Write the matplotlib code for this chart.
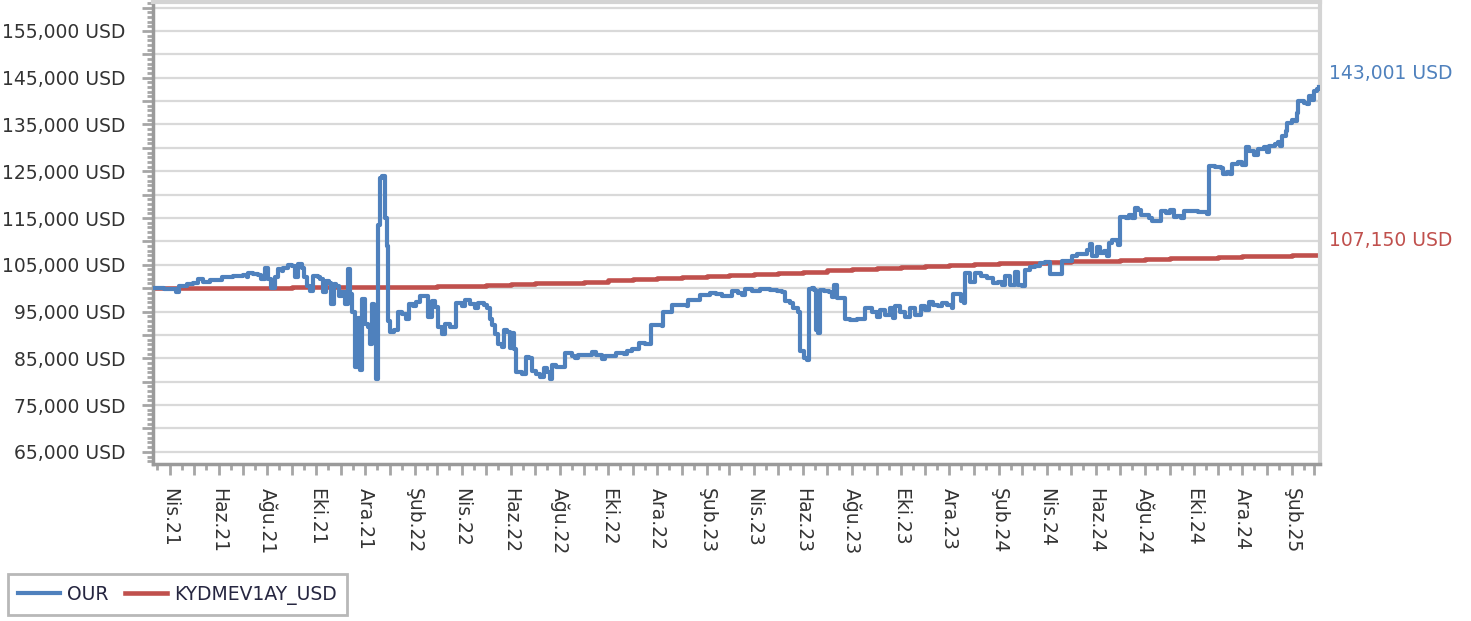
import pandas as pd
import matplotlib
matplotlib.use('Agg')
import matplotlib.pyplot as plt
import matplotlib.dates as mdates
from matplotlib.ticker import MultipleLocator, FuncFormatter

# OUR fon degeri (USD)
our_dates = [
    '2021-03-11', '2021-03-25', '2021-04-09', '2021-04-13', '2021-04-22', '2021-04-30',
    '2021-05-06', '2021-05-13', '2021-05-21', '2021-06-05', '2021-06-19', '2021-07-02',
    '2021-07-06', '2021-07-08', '2021-07-14', '2021-07-20', '2021-07-24', '2021-07-29',
    '2021-08-02', '2021-08-06', '2021-08-10', '2021-08-14', '2021-08-19', '2021-08-21',
    '2021-08-27', '2021-09-01', '2021-09-04', '2021-09-08', '2021-09-13', '2021-09-16',
    '2021-09-19', '2021-09-23', '2021-09-27', '2021-10-03', '2021-10-06', '2021-10-10',
    '2021-10-13', '2021-10-17', '2021-10-20', '2021-10-23', '2021-10-26', '2021-10-29',
    '2021-11-02', '2021-11-06', '2021-11-10', '2021-11-12', '2021-11-15', '2021-11-18',
    '2021-11-22', '2021-11-24', '2021-11-27', '2021-12-01', '2021-12-05', '2021-12-07',
    '2021-12-09', '2021-12-12', '2021-12-15', '2021-12-17', '2021-12-19', '2021-12-22',
    '2021-12-26', '2021-12-28', '2021-12-29', '2022-01-01', '2022-01-06', '2022-01-11',
    '2022-01-16', '2022-01-21', '2022-01-25', '2022-01-30', '2022-02-03', '2022-02-08',
    '2022-02-18', '2022-02-22', '2022-02-26', '2022-03-02', '2022-03-07', '2022-03-11',
    '2022-03-17', '2022-03-25', '2022-04-01', '2022-04-05', '2022-04-11', '2022-04-17',
    '2022-04-21', '2022-04-28', '2022-05-02', '2022-05-06', '2022-05-09', '2022-05-12',
    '2022-05-16', '2022-05-21', '2022-05-23', '2022-05-27', '2022-05-31', '2022-06-02',
    '2022-06-05', '2022-06-07', '2022-06-15', '2022-06-20', '2022-06-24', '2022-06-27',
    '2022-07-03', '2022-07-07', '2022-07-12', '2022-07-16', '2022-07-20', '2022-07-22',
    '2022-07-28', '2022-08-08', '2022-08-16', '2022-08-20', '2022-08-24', '2022-09-04',
    '2022-09-10', '2022-09-16', '2022-09-23', '2022-09-27', '2022-10-07', '2022-10-11',
    '2022-10-20', '2022-10-24', '2022-10-30', '2022-11-08', '2022-11-16', '2022-11-23',
    '2022-11-30', '2022-12-07', '2022-12-08', '2022-12-15', '2022-12-20', '2023-01-07',
    '2023-01-09', '2023-01-23', '2023-02-05', '2023-02-13', '2023-02-20', '2023-02-26',
    '2023-03-04', '2023-03-12', '2023-03-17', '2023-03-21', '2023-03-29', '2023-04-08',
    '2023-04-21', '2023-04-29', '2023-05-06', '2023-05-10', '2023-05-16', '2023-05-20',
    '2023-05-26', '2023-05-28', '2023-06-02', '2023-06-06', '2023-06-08', '2023-06-12',
    '2023-06-15', '2023-06-17', '2023-06-20', '2023-06-22', '2023-06-27', '2023-07-03',
    '2023-07-07', '2023-07-10', '2023-07-13', '2023-07-20', '2023-07-24', '2023-07-30',
    '2023-08-07', '2023-08-16', '2023-08-18', '2023-08-26', '2023-09-01', '2023-09-05',
    '2023-09-12', '2023-09-18', '2023-09-22', '2023-09-24', '2023-09-30', '2023-10-07',
    '2023-10-13', '2023-10-19', '2023-10-26', '2023-11-01', '2023-11-05', '2023-11-11',
    '2023-11-17', '2023-11-22', '2023-11-28', '2023-12-04', '2023-12-06', '2023-12-15',
    '2023-12-19', '2023-12-20', '2023-12-27', '2024-01-02', '2024-01-09', '2024-01-17',
    '2024-01-25', '2024-01-31', '2024-02-05', '2024-02-09', '2024-02-15', '2024-02-21',
    '2024-02-25', '2024-03-01', '2024-03-05', '2024-03-11', '2024-03-17', '2024-03-23',
    '2024-03-30', '2024-04-05', '2024-04-20', '2024-04-28', '2024-05-02', '2024-05-08',
    '2024-05-17', '2024-05-21', '2024-05-25', '2024-05-27', '2024-06-02', '2024-06-06',
    '2024-06-11', '2024-06-15', '2024-06-17', '2024-06-21', '2024-06-27', '2024-06-29',
    '2024-07-01', '2024-07-08', '2024-07-12', '2024-07-16', '2024-07-20', '2024-07-24',
    '2024-07-27', '2024-08-06', '2024-08-10', '2024-08-16', '2024-08-21', '2024-08-27',
    '2024-09-02', '2024-09-06', '2024-09-10', '2024-09-15', '2024-09-19', '2024-09-27',
    '2024-10-01', '2024-10-07', '2024-10-18', '2024-10-20', '2024-10-28', '2024-11-04',
    '2024-11-07', '2024-11-12', '2024-11-16', '2024-11-18', '2024-11-26', '2024-12-01',
    '2024-12-05', '2024-12-09', '2024-12-15', '2024-12-21', '2024-12-28', '2025-01-01',
    '2025-01-03', '2025-01-11', '2025-01-15', '2025-01-17', '2025-01-20', '2025-01-24',
    '2025-01-26', '2025-02-01', '2025-02-05', '2025-02-07', '2025-02-09', '2025-02-16',
    '2025-02-20', '2025-02-22', '2025-02-26', '2025-02-28', '2025-03-04', '2025-03-07',
]
our_values = [
    100000, 99800, 99100, 100500, 100850, 101200,
    101900, 101400, 101700, 102400, 102500, 102800,
    102400, 103300, 103100, 102800, 101900, 104300,
    101900, 100000, 102300, 104000, 103600, 104400,
    104900, 104700, 102300, 105100, 104400, 102300,
    100500, 99400, 102600, 102300, 101900, 99100,
    101600, 101200, 96600, 100850, 100500, 98400,
    99100, 96600, 104000, 98800, 94800, 83100,
    93700, 82400, 97700, 92300, 91600, 88100,
    96600, 91000, 80600, 113600, 123500, 123900,
    115000, 109000, 93000, 90600, 91000, 94800,
    94400, 93500, 96600, 96200, 97000, 98400,
    93800, 97300, 95900, 91600, 90200, 92300,
    91600, 96800, 96100, 97400, 96700, 95800,
    96800, 96400, 95800, 93300, 92200, 90100,
    88000, 87500, 91100, 90700, 87300, 90400,
    86900, 82000, 81700, 85300, 85100, 82300,
    81600, 81100, 83000, 82000, 80500, 83500,
    83200, 86100, 85600, 85100, 85800, 85800,
    86300, 85800, 84900, 85500, 85500, 86200,
    86000, 86500, 86900, 88300, 88100, 92200,
    92200, 91900, 95000, 95000, 96500, 96200,
    97500, 98600, 98900, 98700, 98400, 98300,
    99400, 98900, 98600, 99800, 99500, 99800,
    99600, 99400, 99100, 97200, 96800, 95700,
    95000, 86500, 85100, 84600, 99800, 100000,
    99600, 91100, 90400, 99600, 99300, 99100,
    98200, 100700, 97900, 97900, 93300, 93100,
    93300, 93400, 95700, 95000, 93900, 95400,
    94300, 95700, 93600, 96100, 95000, 93900,
    95700, 94300, 96100, 95400, 97000, 96500,
    96100, 96800, 96500, 95700, 98800, 97200,
    96800, 103200, 101400, 103200, 102600, 102100,
    101100, 101400, 100700, 102500, 100700, 103500,
    100700, 100400, 103900, 104600, 104700, 105300,
    105700, 103000, 105800, 105900, 106900, 107400,
    107300, 108100, 109500, 106900, 108700, 107600,
    108000, 106900, 109700, 110400, 110100, 109300,
    115300, 115000, 115700, 115000, 117100, 116800,
    115700, 115000, 114300, 114400, 116400, 116100,
    116800, 115300, 115500, 115000, 116600, 116400,
    116600, 116200, 115800, 126100, 126000, 125700,
    124500, 124900, 124500, 126600, 127000, 126400,
    130100, 129400, 128500, 129800, 130100, 129100,
    130500, 130800, 131200, 130500, 132500, 133600,
    135300, 136000, 135700, 137500, 140000, 139600,
    139300, 141000, 140300, 142100, 142500, 143001,
]

# KYDMEV1AY_USD (aylik adimlar)
kyd_dates = [
    '2021-03-11', '2021-04-01', '2021-05-01', '2021-06-01', '2021-07-01', '2021-08-01',
    '2021-09-01', '2021-10-01', '2021-11-01', '2021-12-01', '2022-01-01', '2022-02-01',
    '2022-03-01', '2022-04-01', '2022-05-01', '2022-06-01', '2022-07-01', '2022-08-01',
    '2022-09-01', '2022-10-01', '2022-11-01', '2022-12-01', '2023-01-01', '2023-02-01',
    '2023-03-01', '2023-04-01', '2023-05-01', '2023-06-01', '2023-07-01', '2023-08-01',
    '2023-09-01', '2023-10-01', '2023-11-01', '2023-12-01', '2024-01-01', '2024-02-01',
    '2024-03-01', '2024-04-01', '2024-05-01', '2024-06-01', '2024-07-01', '2024-08-01',
    '2024-09-01', '2024-10-01', '2024-11-01', '2024-12-01', '2025-01-01', '2025-02-01',
    '2025-03-01', '2025-03-07',
]
kyd_values = [
    100000, 100000, 100050, 100080, 100110, 100140,
    100170, 100200, 100230, 100260, 100300, 100340,
    100400, 100500, 100650, 100800, 101000, 101200,
    101400, 101650, 101900, 102150, 102400, 102600,
    102850, 103050, 103300, 103550, 103800, 104000,
    104250, 104500, 104700, 104900, 105100, 105300,
    105450, 105600, 105750, 105900, 106050, 106200,
    106350, 106500, 106650, 106800, 106900, 107050,
    107150, 107150,
]

ay_adlari = {2: 'Şub', 4: 'Nis', 6: 'Haz', 8: 'Ağu', 10: 'Eki', 12: 'Ara'}

blue = '#4F81BD'
red = '#C0504D'
grey = '#A6A6A6'

our_x = pd.to_datetime(our_dates)
kyd_x = pd.to_datetime(kyd_dates)

plt.rcParams['font.family'] = ['DejaVu Sans']

fig = plt.figure(figsize=(14.71, 6.21), dpi=100)
ax = fig.add_axes([153 / 1471, 1 - 464 / 621, (1320 - 153) / 1471, 462.5 / 621])

ax.plot(our_x, our_values, color=blue, lw=3, drawstyle='steps-post', label='OUR', zorder=3)
ax.plot(kyd_x, kyd_values, color=red, lw=3.3, drawstyle='steps-post', label='KYDMEV1AY_USD', zorder=2)

ax.set_xlim(pd.Timestamp('2021-03-11'), pd.Timestamp('2025-03-08'))
ax.set_ylim(62400, 161300)

# y ekseni
ax.yaxis.set_major_locator(MultipleLocator(5000))
ax.yaxis.set_minor_locator(MultipleLocator(1000))
ax.yaxis.set_major_formatter(FuncFormatter(
    lambda v, _: f'{v:,.0f} USD' if round(v) % 10000 == 5000 else ''))
ax.grid(axis='y', which='major', color='#D9D9D9', lw=1.6, zorder=0)

# x ekseni
ax.xaxis.set_major_locator(mdates.MonthLocator(bymonthday=1))
ax.xaxis.set_minor_locator(mdates.MonthLocator(bymonthday=16))


def ay_etiket(v, _):
    d = mdates.num2date(v)
    if d.month in ay_adlari:
        return f'{ay_adlari[d.month]}.{d.year % 100:02d}'
    return ''


ax.xaxis.set_major_formatter(FuncFormatter(ay_etiket))

ax.tick_params(axis='both', which='major', length=8, width=2, color=grey,
               labelsize=13.5, labelcolor='#333333')
ax.tick_params(axis='both', which='minor', length=4, width=2, color=grey)
ax.tick_params(axis='y', which='major', pad=12)
ax.tick_params(axis='x', which='major', pad=9)
plt.setp(ax.get_xticklabels(), rotation=-90, ha='center', va='top')

for side in ['left', 'bottom']:
    ax.spines[side].set_color('#9A9A9A')
    ax.spines[side].set_linewidth(2.5)
for side in ['top', 'right']:
    ax.spines[side].set_color('#D4D4D4')
    ax.spines[side].set_linewidth(3)

# son deger etiketleri
ax.annotate(f'{our_values[-1]:,.0f} USD', xy=(our_x[-1], our_values[-1]), xytext=(7, 10),
            textcoords='offset points', ha='left', va='center', fontsize=13.5,
            color=blue, annotation_clip=False)
ax.annotate(f'{kyd_values[-1]:,.0f} USD', xy=(kyd_x[-1], kyd_values[-1]), xytext=(7, 10),
            textcoords='offset points', ha='left', va='center', fontsize=13.5,
            color=red, annotation_clip=False)

leg = fig.legend(loc='lower left', bbox_to_anchor=(8 / 1471, 1 - 615 / 621), ncol=2,
                 fontsize=13.5, frameon=True, fancybox=False, handlelength=2.2,
                 handletextpad=0.4, columnspacing=0.9, borderpad=0.55, borderaxespad=0)
leg.get_frame().set_edgecolor(grey)
leg.get_frame().set_linewidth(2)
for t in leg.get_texts():
    t.set_color('#262640')

fig.savefig('out.png', dpi=100)
